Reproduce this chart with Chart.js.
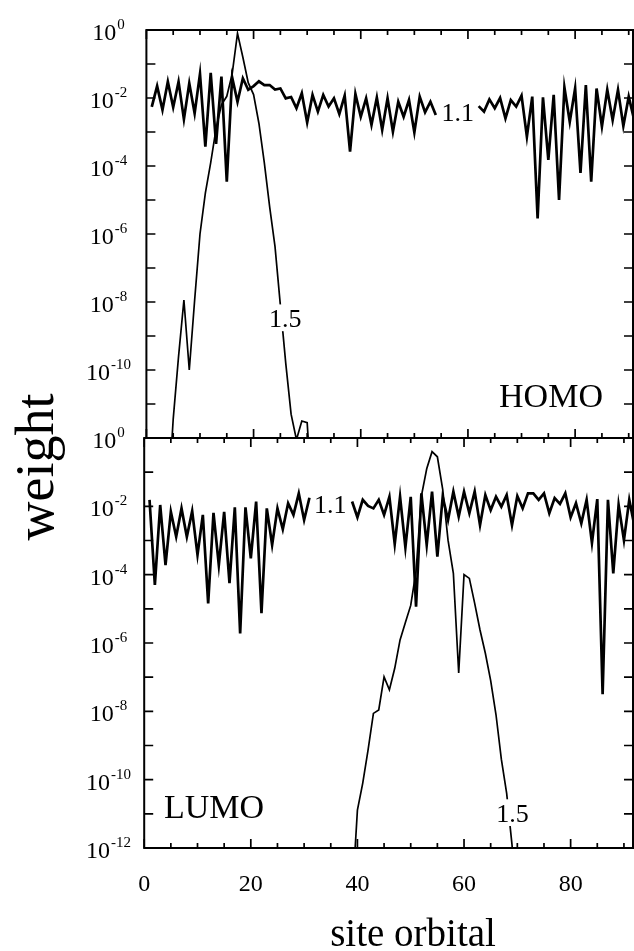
<!DOCTYPE html>
<html><head><meta charset="utf-8">
<script src="https://cdn.jsdelivr.net/npm/chart.js@4.4.0/dist/chart.umd.min.js"></script>
<style>
html,body{margin:0;padding:0;background:#fff;}
#wrap{position:relative;width:634px;height:951px;overflow:hidden;background:#fff;}
canvas{position:absolute;left:0;top:0;}
</style></head><body>
<div id="wrap">
<canvas id="cTop" width="634" height="951"></canvas>
<canvas id="cBot" width="634" height="951"></canvas>
</div>
<script>
// ---------- data (log10 of weight) ----------
const sites = [1,2,3,4,5,6,7,8,9,10,11,12,13,14,15,16,17,18,19,20,21,22,23,24,25,26,27,28,29,30,
  31,32,33,34,35,36,37,38,39,40,41,42,43,44,45,46,47,48,49,50,51,52,53,54,55,56,57,58,59,60,
  61,62,63,64,65,66,67,68,69,70,71,72,73,74,75,76,77,78,79,80,81,82,83,84,85,86,87,88,89,90,91,92];

const homo11Log = [-2.26,-1.65,-2.35,-1.52,-2.27,-1.52,-2.62,-1.57,-2.45,-1.29,
  -3.43,-1.26,-3.35,-1.37,-4.46,-1.39,-2.11,-1.42,-1.76,-1.65,
  -1.51,-1.62,-1.62,-1.75,-1.72,-2.01,-1.97,-2.30,-1.86,-2.72,
  -1.91,-2.40,-1.91,-2.25,-2.01,-2.47,-1.93,-3.58,-1.88,-2.55,
  -2.01,-2.79,-1.99,-2.94,-2.01,-2.99,-2.11,-2.55,-2.06,-3.01,
  -1.96,-2.42,-2.11,-2.50,null,null,null,null,null,null,
  null,-2.24,-2.40,-2.04,-2.30,-2.00,-2.60,-2.06,-2.25,-1.93,
  -3.14,-1.96,-5.54,-1.98,-3.82,-1.91,-5.00,-1.69,-2.70,-1.72,
  -4.20,-1.62,-4.46,-1.72,-2.84,-1.76,-2.65,-1.76,-2.82,-1.96,-2.63,null];

const homo15Sites = [4,5,6,7,8,9,10,11,12,13,14,15,16,17,18,19,20,21,22,23,24,25,26,27,28,29,30,31];
const homo15Log = [-14,-11.45,-9.6,-7.94,-10.0,-7.95,-6.0,-4.8,-3.9,-2.9,
  -2.2,-1.95,-1.3,-0.1,-0.8,-1.55,-1.9,-2.75,-3.9,-5.2,
  -6.37,-8.1,-9.8,-11.3,-12.05,-11.5,-11.55,-14];

const lumo11Log = [-1.81,-4.30,-1.96,-3.72,-2.16,-2.89,-2.06,-2.89,-2.14,-3.42,
  -2.25,-4.84,-2.19,-3.72,-2.16,-4.25,-2.03,-5.72,-2.03,-3.52,
  -1.86,-5.13,-2.06,-3.13,-2.06,-2.67,-1.91,-2.25,-1.62,-2.40,
  -1.75,null,null,null,null,null,null,null,-1.86,-2.32,
  -1.81,-1.99,-2.06,-1.81,-2.25,-1.72,-3.10,-1.72,-3.20,-1.72,
  -4.94,-1.62,-3.13,-1.57,-3.47,-1.72,-2.40,-1.57,-2.30,-1.57,
  -2.20,-1.57,-2.55,-1.67,-2.11,-1.72,-2.01,-1.67,-2.55,-1.70,
  -2.06,-1.62,-1.62,-1.81,-1.62,-2.20,-1.76,-1.93,-1.62,-2.32,
  -1.91,-2.50,-1.81,-3.07,-1.79,-7.50,-1.81,-3.96,-1.96,-2.99,-1.81,-2.60];

const lumo15Sites = [39,40,41,42,43,44,45,46,47,48,49,50,51,52,53,54,55,56,57,58,59,60,61,62,63,64,65,66,67,68,69,70];
const lumo15Log = [-13.5,-10.89,-10.1,-9.13,-8.06,-7.96,-6.99,-7.37,-6.74,-5.91,
  -5.4,-4.9,-3.9,-1.7,-0.9,-0.4,-0.55,-1.5,-2.99,-3.96,
  -6.88,-4.0,-4.11,-4.84,-5.62,-6.3,-7.1,-8.1,-9.4,-10.4,-11.9,-14];

const xTickLabels = [0,20,40,60,80];
const xMinorTicks = [0,5,10,15,20,25,30,35,40,45,50,55,60,65,70,75,80,85,90];
const yDecades = [0,-1,-2,-3,-4,-5,-6,-7,-8,-9,-10,-11,-12];
const topYLabels = [0,-2,-4,-6,-8,-10];
const botYLabels = [0,-2,-4,-6,-8,-10,-12];

// ---------- helpers ----------
const SERIF = '"Liberation Serif","Times New Roman",serif';
function pts(xs, logs){ return xs.map((x,i)=>({x:x, y: logs[i]===null ? null : Math.pow(10, logs[i])})); }

const deco = {
  id:'deco',
  afterDatasetsDraw(chart, args, o){
    const {ctx, chartArea:a, scales} = chart;
    const xs = scales.x, ys = scales.y;
    ctx.save();
    ctx.strokeStyle='#000'; ctx.fillStyle='#000';
    ctx.lineWidth = 1.7;
    ctx.beginPath();
    xMinorTicks.forEach(v=>{
      const px = xs.getPixelForValue(v);
      const len = xTickLabels.includes(v) ? 9 : 5;
      ctx.moveTo(px, a.top); ctx.lineTo(px, a.top+len);
      ctx.moveTo(px, a.bottom); ctx.lineTo(px, a.bottom-len);
    });
    yDecades.forEach(e=>{
      const py = ys.getPixelForValue(Math.pow(10,e));
      ctx.moveTo(a.left, py); ctx.lineTo(a.left+9, py);
      ctx.moveTo(a.right, py); ctx.lineTo(a.right-9, py);
    });
    ctx.stroke();
    ctx.lineWidth = 2;
    ctx.strokeRect(a.left, a.top, a.right-a.left, a.bottom-a.top);
    o.yLabels.forEach(e=>{
      const py = ys.getPixelForValue(Math.pow(10,e));
      const ex = String(e);
      ctx.font = '24px '+SERIF; const wb = ctx.measureText('10').width;
      ctx.font = '15px '+SERIF; const we = ctx.measureText(ex).width;
      const x0 = 108 - (wb+we)/2;
      ctx.textAlign='left'; ctx.textBaseline='alphabetic';
      ctx.font = '24px '+SERIF; ctx.fillText('10', x0, py+10);
      ctx.font = '15px '+SERIF; ctx.fillText(ex, x0+wb+1, py-1);
    });
    o.notes.forEach(n=>{
      const px = xs.getPixelForValue(n.x);
      const py = ys.getPixelForValue(Math.pow(10,n.y));
      ctx.font = n.size+'px '+SERIF;
      ctx.textAlign='center'; ctx.textBaseline='alphabetic';
      if (n.box){
        const w = ctx.measureText(n.text).width;
        ctx.fillStyle='#fff';
        ctx.fillRect(px-w/2-2, py-n.size*0.72-4, w+4, n.size*0.72+8);
        ctx.fillStyle='#000';
      }
      ctx.fillText(n.text, px, py);
    });
    (o.titles||[]).forEach(t=>{
      ctx.save();
      ctx.translate(t.x, t.y); ctx.rotate(t.rot||0);
      ctx.font = t.size+'px '+SERIF; ctx.textAlign='center'; ctx.textBaseline='alphabetic';
      ctx.fillText(t.text, 0, 0);
      ctx.restore();
    });
    ctx.restore();
  }
};

function makeChart(id, cfg){
  return new Chart(document.getElementById(id), {
    type:'line',
    data:{datasets:[
      {data: pts(sites, cfg.l11), borderColor:'#000', borderWidth:2.7, pointRadius:0, tension:0, spanGaps:false},
      {data: pts(cfg.s15, cfg.l15), borderColor:'#000', borderWidth:1.7, pointRadius:0, tension:0, spanGaps:false}
    ]},
    options:{
      responsive:false, animation:false, devicePixelRatio:1,
      layout:{padding: cfg.pad},
      plugins:{legend:{display:false}, tooltip:{enabled:false}, deco: cfg.deco},
      scales:{
        x: cfg.x,
        y:{type:'logarithmic', min:1e-12, max:1, display:false}
      }
    },
    plugins:[deco]
  });
}

makeChart('cTop', {
  l11: homo11Log, s15: homo15Sites, l15: homo15Log,
  pad:{left:146.4, right:1, top:30, bottom:951-438},
  x:{type:'linear', min:0, max:90.8, display:false},
  deco:{yLabels: topYLabels, notes:[
    {text:'1.1', x:58.1, y:-2.68, size:26, box:false},
    {text:'1.5', x:25.9, y:-8.74, size:26, box:true},
    {text:'HOMO', x:75.5, y:-11.09, size:34, box:false}
  ]}
});

makeChart('cBot', {
  l11: lumo11Log, s15: lumo15Sites, l15: lumo15Log,
  pad:{left:144.2, right:1, top:438, bottom:0},
  x:{type:'linear', min:0, max:91.7, position:'bottom',
     grid:{display:false, drawTicks:false}, border:{display:false},
     ticks:{color:'#000', font:{family:SERIF, size:24, lineHeight:1.2}, padding:22, maxRotation:0, autoSkip:false},
     afterBuildTicks: s => { s.ticks = xTickLabels.map(v=>({value:v})); },
     afterFit: s => { s.height = 103; }
  },
  deco:{yLabels: botYLabels, notes:[
    {text:'1.1', x:34.9, y:-2.19, size:26, box:false},
    {text:'1.5', x:69.1, y:-11.24, size:26, box:true},
    {text:'LUMO', x:13.1, y:-11.12, size:34, box:false}
  ], titles:[
    {text:'site orbital', x:413, y:946, size:39, rot:0},
    {text:'weight', x:53, y:467, size:54, rot:-Math.PI/2}
  ]}
});
</script>
</body></html>
